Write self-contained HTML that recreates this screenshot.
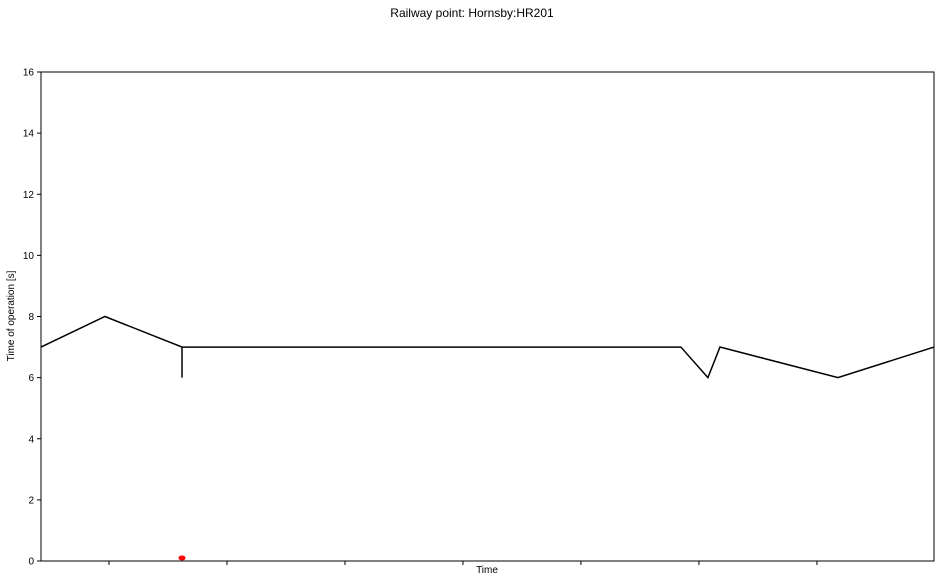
<!DOCTYPE html>
<html><head><meta charset="utf-8"><style>
body{margin:0;background:#fff;width:944px;height:582px;overflow:hidden}
text{font-family:"Liberation Sans",sans-serif;font-size:10px;fill:#000}
</style></head><body>
<svg id="chart" width="944" height="582">
<text x="472" y="17" text-anchor="middle" style="font-size:12px">Railway point: Hornsby:HR201</text>
<text x="487" y="573" text-anchor="middle">Time</text>
<text transform="translate(14,316) rotate(-90)" text-anchor="middle">Time of operation [s]</text>
</svg>
<script>
const xVals=[-0.576,-0.034,0.619,0.619,0.619,4.847,5.076,5.178,6.178,6.992];
const yVals=[7,8,7,6,7,7,6,7,6,7];
const yTicks=[0,2,4,6,8,10,12,14,16];
const xTicks=[0,1,2,3,4,5,6];
const alertX=[0.619];
const alertY=[0.1];
const L=41,R=934,T=72,B=561,xmin=-0.576,xmax=6.992,ymin=0,ymax=16;
const sx=v=>L+(v-xmin)/(xmax-xmin)*(R-L);
const sy=v=>B-(v-ymin)/(ymax-ymin)*(B-T);
const svg=document.getElementById('chart');
const NS='http://www.w3.org/2000/svg';
function mk(t,a){const e=document.createElementNS(NS,t);for(const k in a)e.setAttribute(k,a[k]);svg.appendChild(e);return e;}
yTicks.forEach(v=>{
 const l=mk('line',{x1:L-4,x2:L,y1:sy(v),y2:sy(v),stroke:'#000'});
 
 
 const t=mk('text',{x:L-7,y:sy(v)+3.5,'text-anchor':'end'});t.textContent=v;
 
 
});
xTicks.forEach(v=>{
 const l=mk('line',{x1:sx(v),x2:sx(v),y1:B,y2:B+4,stroke:'#000'});
 
 
});
const p=mk('polyline',{points:xVals.map((x,i)=>sx(x)+','+sy(yVals[i])).join(' '),fill:'none',stroke:'#000','stroke-width':1.5});


alertX.forEach((x,i)=>{
 const c=mk('ellipse',{cx:sx(x),cy:sy(alertY[i]),rx:3.5,ry:2.5,fill:'red'});
 
 
});
const f=mk('rect',{x:L,y:T,width:R-L,height:B-T,fill:'none',stroke:'#000','stroke-width':1});


</script>
</body></html>
